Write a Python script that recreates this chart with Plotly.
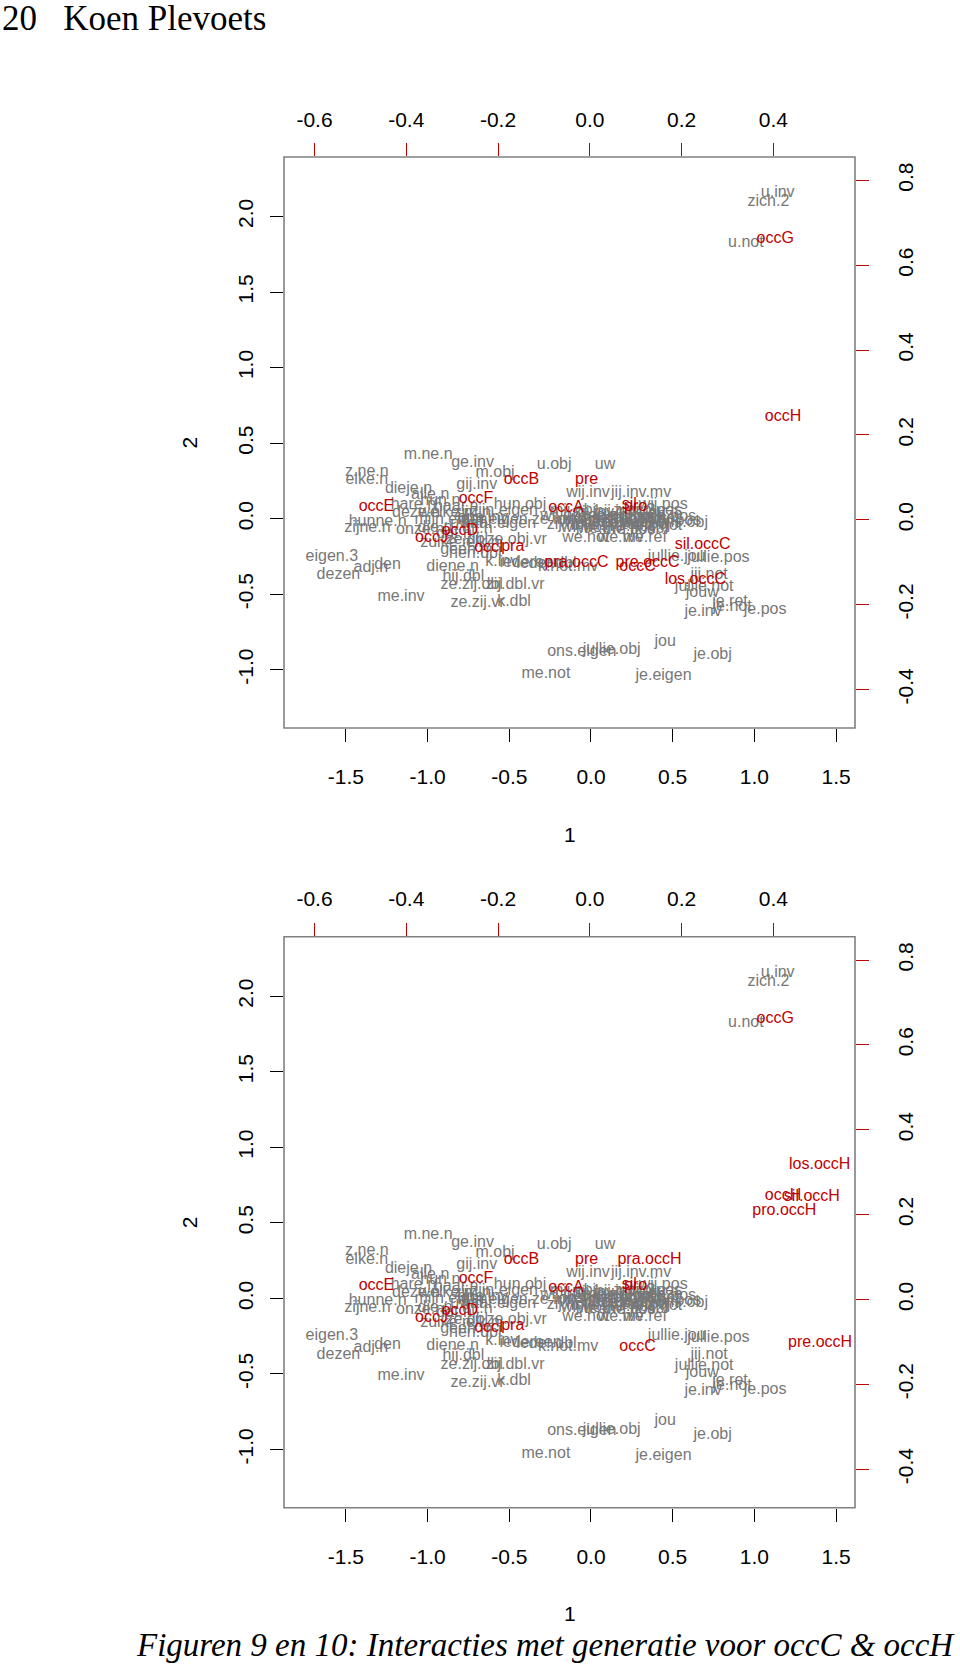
import plotly.graph_objects as go

# ---------------- data (row scores: grey, bottom/left axes) ----------------
grey_labels = [
    "u.inv", "zich.2", "u.not", "m.ne.n", "ge.inv", "u.obj", "uw", "z.ne.n", "elke.n", "m.obj",
    "dieje.n", "gij.inv", "alle.n", "hare.n", "hun.obj", "hun.eigen", "ze.inv", "deze.n", "hunne.n", "zijne.n",
    "onze.n", "ze.obj.vr", "ze.dbl", "eigen.3", "dezen", "adj.n", "den", "diene.n", "hij.dbl", "k.inv",
    "iedereen", "ieder.dbl", "k.not.mv", "ze.zij.dbl", "zij.dbl.vr", "me.inv", "ze.zij.vr", "k.dbl", "wij.inv", "jij.inv.mv",
    "wij.pos", "onze", "ons.obj", "we.not", "we.mv", "we.ref", "jou", "je.inv", "je.pos", "je.ret",
    "je.not", "jij.not", "jullie.not", "jouw", "jullie.jou", "jullie.pos", "ons.eigen", "jullie.obj", "je.obj", "me.not",
    "je.eigen",
    # dense central cluster
    "wij.obj", "ons.n", "zij.inv", "hen.obj", "hem.obj", "haar.obj", "ze.not", "zij.not", "wij.not", "ons.dbl",
    "hij.inv", "hij.not", "ik.inv", "ik.not", "mij.obj", "mijn.n", "me.obj", "ze.pos", "hun.pos", "zijn.pos",
    "haar.pos", "wij.dbl", "we.inv", "we.obj", "zich.3", "ik.dbl", "mijn.pos", "me.pos",
    # dense left cluster
    "hun.n", "haar.n", "zijn.n", "mijn.eigen", "uw.n", "ons.inv", "die.n", "dat.n", "dit.n", "zulke.n",
    "geen.n", "elk.n", "hen.dbl", "welke.n", "haar.eigen", "zijn.eigen",
]
grey_x = [
    1.143, 1.086, 0.948, -0.997, -0.725, -0.225, 0.086, -1.372, -1.372, -0.587,
    -1.117, -0.699, -0.984, -1.087, -0.434, -0.602, -0.234, -1.071, -1.306, -1.368,
    -1.046, -0.455, -0.760, -1.586, -1.546, -1.347, -1.245, -0.847, -0.781, -0.546,
    -0.370, -0.273, -0.140, -0.730, -0.464, -1.163, -0.694, -0.471, -0.018, 0.307,
    0.442, 0.455, 0.558, -0.032, 0.182, 0.331, 0.454, 0.686, 1.066, 0.851,
    0.864, 0.723, 0.693, 0.681, 0.525, 0.780, -0.056, 0.127, 0.745, -0.276,
    0.444,
    -0.175, -0.078, 0.019, 0.117, 0.214, 0.312, 0.409, -0.143, -0.045, 0.052,
    0.149, 0.247, 0.344, 0.442, -0.110, 0.006, 0.097, 0.201, 0.292, 0.390,
    0.487, -0.058, 0.058, 0.169, 0.266, 0.357, 0.461, 0.234,
    -0.922, -0.825, -0.727, -0.857, -0.760, -0.662, -0.955, -0.838, -0.695, -0.890,
    -0.773, -0.662, -0.708, -0.890, -0.565, -0.532,
]
grey_y = [
    2.153, 2.093, 1.822, 0.422, 0.366, 0.355, 0.355, 0.312, 0.256, 0.300,
    0.194, 0.223, 0.157, 0.091, 0.091, -0.008, -0.008, 0.035, -0.020, -0.063,
    -0.074, -0.140, -0.140, -0.251, -0.372, -0.328, -0.306, -0.317, -0.383, -0.284,
    -0.295, -0.302, -0.321, -0.439, -0.439, -0.516, -0.559, -0.549, 0.168, 0.168,
    0.091, 0.025, -0.028, -0.126, -0.126, -0.126, -0.813, -0.615, -0.604, -0.549,
    -0.582, -0.372, -0.449, -0.493, -0.251, -0.262, -0.879, -0.869, -0.902, -1.027,
    -1.041,
    0.021, -0.007, 0.035, -0.021, 0.014, -0.042, 0.000, -0.042, -0.063, 0.000,
    0.042, -0.056, 0.035, -0.049, 0.049, -0.049, 0.021, -0.028, 0.000, 0.049,
    -0.014, -0.028, -0.070, -0.007, 0.049, -0.070, 0.014, -0.077,
    0.119, 0.077, 0.035, -0.007, -0.035, 0.007, -0.063, -0.098, -0.070, -0.161,
    -0.204, -0.161, -0.232, 0.035, -0.035, 0.049,
]

# ---------------- column scores (red, top/right axes) ----------------
red_main_labels = ["occA", "occB", "occC", "occD", "occE", "occF", "occG", "occH", "occI", "occJ",
                   "pre", "pra", "sil", "pro"]
red_main_x = [-0.052, -0.149, 0.104, -0.283, -0.465, -0.248, 0.404, 0.421, -0.220, -0.345,
              -0.007, -0.168, 0.086, 0.100]
red_main_y = [0.028, 0.093, -0.112, -0.026, 0.031, 0.048, 0.661, 0.243, -0.067, -0.044,
              0.094, -0.063, 0.035, 0.031]

red_occC_labels = ["pra.occC", "pre.occC", "sil.occC", "los.occC"]
red_occC_x = [-0.029, 0.126, 0.246, 0.230]
red_occC_y = [-0.103, -0.101, -0.060, -0.142]

red_occH_labels = ["pra.occH", "pre.occH", "los.occH", "sil.occH", "pro.occH"]
red_occH_x = [0.130, 0.502, 0.501, 0.484, 0.424]
red_occH_y = [0.092, -0.102, 0.317, 0.241, 0.208]

x_ticks = [-1.5, -1.0, -0.5, 0.0, 0.5, 1.0, 1.5]
x_tick_text = ["-1.5", "-1.0", "-0.5", "0.0", "0.5", "1.0", "1.5"]
y_ticks = [-1.0, -0.5, 0.0, 0.5, 1.0, 1.5, 2.0]
y_tick_text = ["-1.0", "-0.5", "0.0", "0.5", "1.0", "1.5", "2.0"]
x2_ticks = [-0.6, -0.4, -0.2, 0.0, 0.2, 0.4]
x2_tick_text = ["-0.6", "-0.4", "-0.2", "0.0", "0.2", "0.4"]
y2_ticks = [-0.4, -0.2, 0.0, 0.2, 0.4, 0.6, 0.8]
y2_tick_text = ["-0.4", "-0.2", "0.0", "0.2", "0.4", "0.6", "0.8"]

X_RANGE = [-1.879, 1.616]
Y_RANGE = [-1.385, 2.394]
X2_RANGE = [-0.6665, 0.578]
Y2_RANGE = [-0.4907, 0.855]

GREY = "#777777"
RED = "#c00000"
SANS = "Liberation Sans, Arial, sans-serif"
SERIF = "Liberation Serif, Times New Roman, serif"
LBL = 16

W, H = 960, 1664
XDOM = [284 / W, 855 / W]
TOP_DOM = [(H - 728) / H, (H - 157) / H]
BOT_DOM = [(H - 1507.7) / H, (H - 936.7) / H]

fig = go.Figure()


def add_text(labels, xs, ys, color, xa, ya):
    fig.add_trace(go.Scatter(
        x=xs, y=ys, text=labels, mode="text", xaxis=xa, yaxis=ya,
        textposition="middle center",
        textfont=dict(family=SANS, size=LBL, color=color),
        hoverinfo="text", showlegend=False, cliponaxis=False,
    ))


# top panel
add_text(grey_labels, grey_x, grey_y, GREY, "x", "y")
add_text(red_main_labels + red_occC_labels, red_main_x + red_occC_x, red_main_y + red_occC_y, RED, "x2", "y2")
# bottom panel
add_text(grey_labels, grey_x, grey_y, GREY, "x3", "y3")
add_text(red_main_labels + red_occH_labels, red_main_x + red_occH_x, red_main_y + red_occH_y, RED, "x4", "y4")

tickfont = dict(family=SANS, size=21, color="#000000")
common = dict(showgrid=False, zeroline=False, showline=False, ticks="outside",
              ticklen=13, tickwidth=1.3, tickfont=tickfont, fixedrange=True)


def base_x(dom, anchor):
    return dict(domain=dom, range=X_RANGE, anchor=anchor, side="bottom", tickvals=x_ticks,
                ticktext=x_tick_text, tickcolor="#000000", ticklabelstandoff=17, **common)


def base_y(dom, anchor):
    return dict(domain=dom, range=Y_RANGE, anchor=anchor, side="left", tickvals=y_ticks,
                ticktext=y_tick_text, tickcolor="#000000", tickangle=-90, ticklabelstandoff=9, **common)


def over_x(over, anchor):
    return dict(overlaying=over, range=X2_RANGE, anchor=anchor, side="top", tickvals=x2_ticks,
                ticktext=x2_tick_text, tickcolor=RED, ticklabelstandoff=8, **common)


def over_y(over, anchor):
    return dict(overlaying=over, range=Y2_RANGE, anchor=anchor, side="right", tickvals=y2_ticks,
                ticktext=y2_tick_text, tickcolor=RED, tickangle=-90, ticklabelstandoff=19, **common)


fig.update_layout(
    width=W, height=H, autosize=False,
    margin=dict(l=0, r=0, t=0, b=0),
    paper_bgcolor="white", plot_bgcolor="white",
    xaxis=base_x(XDOM, "y"), yaxis=base_y(TOP_DOM, "x"),
    xaxis2=over_x("x", "y"), yaxis2=over_y("y", "x"),
    xaxis3=base_x(XDOM, "y3"), yaxis3=base_y(BOT_DOM, "x3"),
    xaxis4=over_x("x3", "y3"), yaxis4=over_y("y3", "x3"),
)

# plot boxes
for xr, yr in (("x domain", "y domain"), ("x3 domain", "y3 domain")):
    fig.add_shape(type="rect", xref=xr, yref=yr, x0=0, x1=1, y0=0, y1=1,
                  line=dict(color="#808080", width=1.6), fillcolor="rgba(0,0,0,0)", layer="above")


def py(px):
    return (H - px) / H


ann = []
# axis titles
for off in (0, 779.7):
    ann.append(dict(text="1", x=569.5 / W, y=py(834 + off), xref="paper", yref="paper",
                    xanchor="center", yanchor="middle",
                    showarrow=False, font=dict(family=SANS, size=21, color="#000")))
    ann.append(dict(text="2", x=189 / W, y=py(442.5 + off), xref="paper", yref="paper",
                    xanchor="center", yanchor="middle",
                    showarrow=False, textangle=-90, font=dict(family=SANS, size=21, color="#000")))
# page header and caption
ann.append(dict(text="20\u00a0\u00a0\u00a0Koen Plevoets", x=0, y=py(18), xref="paper", yref="paper",
                xanchor="left", yanchor="middle", showarrow=False,
                font=dict(family=SERIF, size=35, color="#000")))
ann.append(dict(text="<i>Figuren 9 en 10: Interacties met generatie voor occC &amp; occH</i>",
                x=545 / W, y=py(1645), xref="paper", yref="paper", showarrow=False,
                xanchor="center", yanchor="middle",
                font=dict(family=SERIF, size=33, color="#000")))
fig.update_layout(annotations=ann)

fig.write_html("out.html")
